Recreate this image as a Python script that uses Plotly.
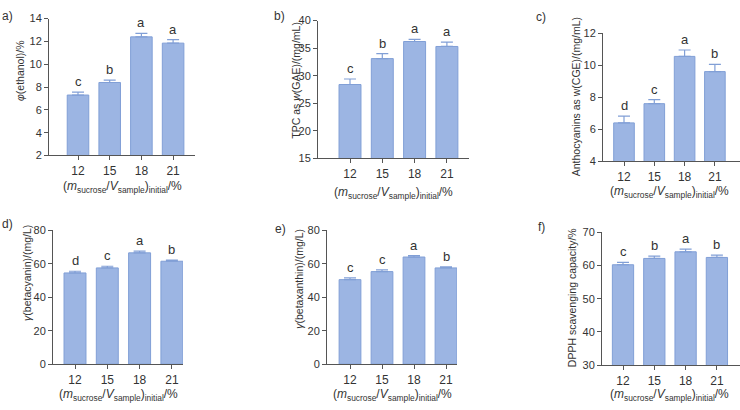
import plotly.graph_objects as go

# ---------------- data ----------------
categories = ["12", "15", "18", "21"]

ethanol = [7.3, 8.4, 12.4, 11.85]
ethanol_err = [0.25, 0.2, 0.3, 0.3]
ethanol_sig = ["c", "b", "a", "a"]

tpc = [28.4, 33.1, 36.2, 35.3]
tpc_err = [1.0, 0.9, 0.4, 0.8]
tpc_sig = ["c", "b", "a", "a"]

antho = [6.4, 7.6, 10.55, 9.6]
antho_err = [0.42, 0.25, 0.4, 0.45]
antho_sig = ["d", "c", "a", "b"]

betacyanin = [54.5, 57.5, 66.5, 61.5]
betacyanin_err = [1.0, 1.0, 1.0, 0.7]
betacyanin_sig = ["d", "c", "a", "b"]

betaxanthin = [50.5, 55.3, 64.0, 57.5]
betaxanthin_err = [1.0, 1.0, 0.8, 0.7]
betaxanthin_sig = ["c", "c", "a", "b"]

dpph = [60.2, 62.1, 64.1, 62.4]
dpph_err = [0.7, 0.7, 0.8, 0.7]
dpph_sig = ["c", "b", "a", "b"]

W, H = 740, 410
FONT = "Liberation Sans, Arial, sans-serif"
TXT = "#333333"
AXC = "#555555"
BAR = "#9cb5e3"
BAR_EDGE = "#819fd6"

xtitle = "(<i>m</i><sub>sucrose</sub>/<i>V</i><sub>sample</sub>)<sub>initial</sub>/%"

# panel specs: (values, err, sig, ytitle, yrange, dtick, label,
#  px-left, px-right, px-first-center, px-spacing, px-top, px-bottom,
#  ytitle center (x,y), label pos (x,y), xtitle y)
panels = [
    (ethanol, ethanol_err, ethanol_sig, "<i>φ</i>(ethanol)/%", [2, 14], 2, "a)",
     49, 195, 78, 31.7, 13, 154, (20, 67), (7, 10), 186),
    (tpc, tpc_err, tpc_sig, "TPC as <i>w</i>(GAE)/(mg/mL)", [15, 40], 5, "b)",
     318, 469, 350, 32.3, 15, 157, (296, 77), (279, 10), 193),
    (antho, antho_err, antho_sig, "Anthocyanins as w(CGE)/(mg/mL)", [4, 12], 2, "c)",
     603, 740, 624, 30.3, 28, 160, (576, 94), (541, 11), 192),
    (betacyanin, betacyanin_err, betacyanin_sig, "<i>γ</i>(betacyanin)/(mg/L)", [0, 80], 20, "d)",
     53, 183, 75, 32.3, 231, 369, (27, 275), (7, 225), 401),
    (betaxanthin, betaxanthin_err, betaxanthin_sig, "<i>γ</i>(betaxanthin)/(mg/L)", [0, 80], 20, "e)",
     327, 457, 350, 32.0, 231, 369, (299, 281), (280, 230), 401),
    (dpph, dpph_err, dpph_sig, "DPPH scavenging capacity/%", [30, 70], 10, "f)",
     602, 740, 623, 31.3, 233, 370, (572, 301), (541, 228), 401),
]

fig = go.Figure()
annotations = []
layout = {}

for i, (vals, err, sig, ytl, yr, dt, lab, L, R, c0, s, top, bot, ytc, lpos, xty) in enumerate(panels):
    n = i + 1
    xa = "x" if n == 1 else f"x{n}"
    ya = "y" if n == 1 else f"y{n}"
    xkey = "xaxis" if n == 1 else f"xaxis{n}"
    ykey = "yaxis" if n == 1 else f"yaxis{n}"
    xs = list(range(len(categories)))
    fig.add_trace(go.Bar(
        x=xs, y=vals, width=0.68, xaxis=xa, yaxis=ya,
        marker=dict(color=BAR, line=dict(color=BAR_EDGE, width=1)),
        error_y=dict(type="data", array=err, arrayminus=[0] * len(err), symmetric=False,
                     color=BAR_EDGE, thickness=1.2, width=6),
        showlegend=False, hoverinfo="skip",
    ))
    xr = [-(c0 - L) / s, (R - c0) / s]
    layout[xkey] = dict(
        domain=[L / W, min(R / W, 1.0)], anchor=ya, range=xr,
        tickmode="array", tickvals=xs, ticktext=categories,
        showline=True, linecolor=AXC, linewidth=1, ticks="outside", ticklen=4,
        tickcolor=AXC, showgrid=False, zeroline=False,
        tickfont=dict(family=FONT, size=12, color=TXT), fixedrange=True,
    )
    layout[ykey] = dict(
        domain=[1 - bot / H, 1 - top / H], anchor=xa, range=yr, dtick=dt, tick0=yr[0],
        showline=True, linecolor=AXC, linewidth=1, ticks="outside", ticklen=4,
        tickcolor=AXC, showgrid=False, zeroline=False,
        tickfont=dict(family=FONT, size=11, color=TXT), fixedrange=True,
    )
    # significance letters
    for j, (v, e, sg) in enumerate(zip(vals, err, sig)):
        annotations.append(dict(
            x=j, y=v + e, xref=xa, yref=ya, text=sg, showarrow=False,
            yanchor="bottom", yshift=1, font=dict(family=FONT, size=13, color=TXT),
        ))
    # y title
    annotations.append(dict(
        x=ytc[0] / W, y=1 - ytc[1] / H, xref="paper", yref="paper", text=ytl,
        textangle=-90, showarrow=False, xanchor="center", yanchor="middle",
        font=dict(family=FONT, size=10.5, color=TXT),
    ))
    # x title
    annotations.append(dict(
        x=((L + R) / 2 if R <= 700 else (L + 736) / 2) / W,
        y=1 - xty / H, xref="paper", yref="paper", text=xtitle,
        showarrow=False, xanchor="center", yanchor="middle",
        font=dict(family=FONT, size=12, color=TXT),
    ))
    # panel label
    annotations.append(dict(
        x=lpos[0] / W, y=1 - lpos[1] / H, xref="paper", yref="paper", text=lab,
        showarrow=False, xanchor="center", yanchor="middle",
        font=dict(family=FONT, size=12, color=TXT),
    ))

fig.update_layout(
    width=W, height=H, margin=dict(l=0, r=0, t=0, b=0),
    paper_bgcolor="white", plot_bgcolor="white",
    annotations=annotations, bargap=0.3, **layout,
)

fig.write_html("out.html")
